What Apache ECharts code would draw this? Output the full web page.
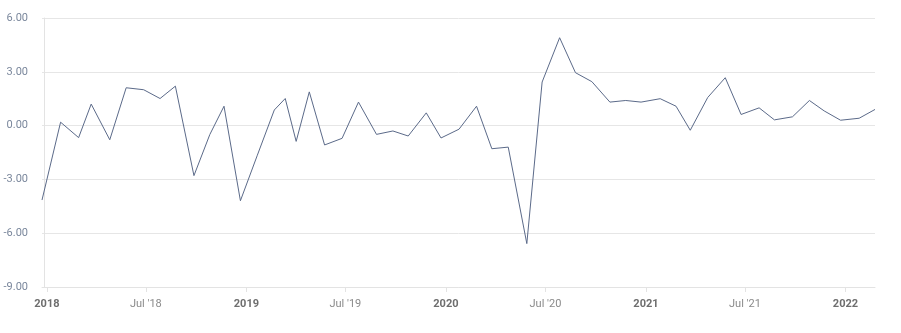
<!DOCTYPE html>
<html>
<head>
<meta charset="utf-8">
<script src="https://cdn.jsdelivr.net/npm/echarts@6/dist/echarts.min.js"></script>
<style>
html,body{margin:0;padding:0;background:#fff;}
#c{width:901px;height:333px;}
</style>
</head>
<body>
<div id="c"></div>
<script>
// Observation dates (irregular release dates)
var dates = [
  '2017-12-23','2018-01-26','2018-02-28','2018-03-23','2018-04-26','2018-05-26','2018-06-27','2018-07-27',
  '2018-08-24','2018-09-27','2018-10-26','2018-11-21','2018-12-21','2019-01-21','2019-02-21','2019-03-13',
  '2019-04-02','2019-04-26','2019-05-24','2019-06-25','2019-07-25','2019-08-27','2019-09-26','2019-10-24',
  '2019-11-26','2019-12-23','2020-01-25','2020-02-26','2020-03-25','2020-04-24','2020-05-28','2020-06-25',
  '2020-07-27','2020-08-25','2020-09-24','2020-10-27','2020-11-25','2020-12-23','2021-01-27','2021-02-25',
  '2021-03-23','2021-04-24','2021-05-26','2021-06-24','2021-07-27','2021-08-24','2021-09-26','2021-10-27',
  '2021-11-23','2021-12-23','2022-01-26','2022-02-24'
];
var values = [
  -4.15, 0.19, -0.67, 1.20, -0.79, 2.11, 2.00, 1.51,
  2.20, -2.79, -0.50, 1.08, -4.19, -1.65, 0.87, 1.51,
  -0.88, 1.88, -1.08, -0.71, 1.31, -0.49, -0.30, -0.58,
  0.71, -0.69, -0.20, 1.08, -1.29, -1.20, -6.58, 2.43,
  4.90, 2.95, 2.45, 1.31, 1.40, 1.31, 1.50, 1.08,
  -0.26, 1.57, 2.67, 0.62, 0.99, 0.32, 0.49, 1.40,
  0.82, 0.30, 0.41, 0.90
];
var tickDates = [
  '2018-01-01','2018-07-01','2019-01-01','2019-07-01','2020-01-01',
  '2020-07-01','2021-01-01','2021-07-01','2022-01-01'
];
var yTicks = [-9, -6, -3, 0, 3, 6];

function ts(s){
  var p = s.split('-');
  return new Date(+p[0], +p[1]-1, +p[2]).getTime();
}
var months = ['Jan','Feb','Mar','Apr','May','Jun','Jul','Aug','Sep','Oct','Nov','Dec'];

var seriesData = dates.map(function(d,i){ return [ts(d), values[i]]; });
var tickVals = tickDates.map(ts);

var chart = echarts.init(document.getElementById('c'), null, {renderer:'canvas'});
chart.setOption({
  animation: false,
  backgroundColor: '#fff',
  grid: {left: 42, right: 26, top: 18, bottom: 46, containLabel: false},
  xAxis: {
    type: 'value',
    min: ts(dates[0]),
    max: ts(dates[dates.length-1]),
    axisLine: {show: true, onZero: false, lineStyle: {color: '#e3e3e3', width: 1}},
    axisTick: {show: true, length: 5, lineStyle: {color: '#e3e3e3'}, customValues: tickVals},
    splitLine: {show: false},
    axisLabel: {
      customValues: tickVals,
      margin: 12,
      fontFamily: 'Roboto',
      fontSize: 11,
      formatter: function(v){
        var d = new Date(v);
        if (d.getMonth() === 0) return '{y|' + d.getFullYear() + '}';
        return '{m|' + months[d.getMonth()] + " '" + String(d.getFullYear()).slice(2) + '}';
      },
      rich: {
        y: {fontFamily: 'Roboto', fontSize: 11, fontWeight: 'bold', color: '#6e6e6e'},
        m: {fontFamily: 'Roboto', fontSize: 11, color: '#8a8a8a'}
      }
    }
  },
  yAxis: {
    type: 'value',
    min: yTicks[0],
    max: yTicks[yTicks.length-1],
    interval: 3,
    offset: -2.5,
    axisLine: {show: true, lineStyle: {color: '#e3e3e3', width: 1}},
    axisTick: {show: false},
    splitLine: {show: true, lineStyle: {color: '#e6e6e6', width: 1}},
    axisLabel: {
      margin: 16.5,
      fontFamily: 'Roboto',
      fontSize: 11,
      color: '#7a879c',
      formatter: function(v){ return v.toFixed(2); }
    }
  },
  series: [{
    type: 'line',
    data: seriesData,
    showSymbol: false,
    symbol: 'none',
    lineStyle: {color: '#5b6a89', width: 1},
    itemStyle: {color: '#5b6a89'}
  }]
});
</script>
</body>
</html>
